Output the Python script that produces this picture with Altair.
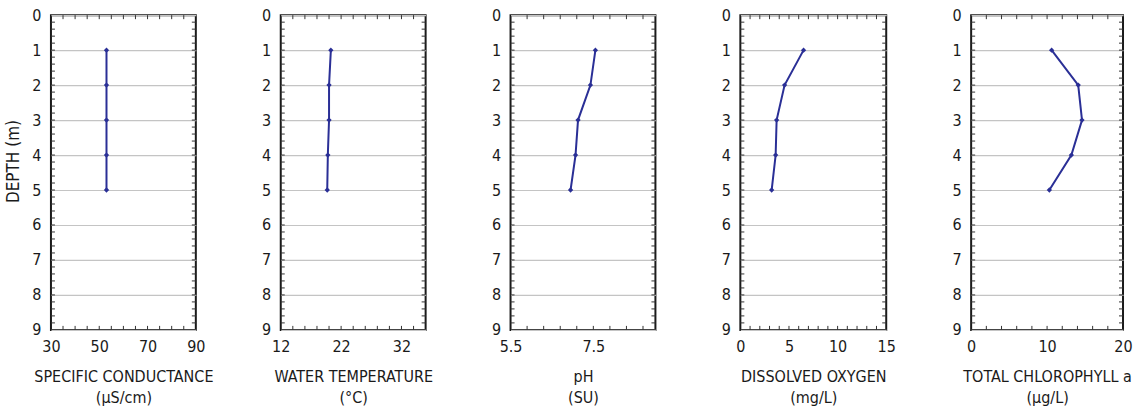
import altair as alt
import pandas as pd

depths = [1, 2, 3, 4, 5]
spec_cond = [53, 53, 53, 53, 53]
water_temp = [20.3, 20.0, 20.0, 19.8, 19.7]
ph = [7.55, 7.43, 7.13, 7.07, 6.95]
diss_oxy = [6.5, 4.55, 3.73, 3.63, 3.22]
chlorophyll = [10.6, 14.1, 14.6, 13.2, 10.3]

panels = [
    dict(vals=spec_cond, dom=[30, 90], labels=[30, 50, 70, 90], minor=5, fmt="d",
         title=["SPECIFIC CONDUCTANCE", "(\u00b5S/cm)"], width=145),
    dict(vals=water_temp, dom=[12, 36], labels=[12, 22, 32], minor=2, fmt="d",
         title=["WATER TEMPERATURE", "(\u00b0C)"], width=145),
    dict(vals=ph, dom=[5.5, 9.0], labels=[5.5, 7.5], minor=0.4, fmt=".1f",
         title=["pH", "(SU)"], width=145),
    dict(vals=diss_oxy, dom=[0, 15], labels=[0, 5, 10, 15], minor=1, fmt="d",
         title=["DISSOLVED OXYGEN", "(mg/L)"], width=146),
    dict(vals=chlorophyll, dom=[0, 20], labels=[0, 10, 20], minor=2, fmt="d",
         title=["TOTAL CHLOROPHYLL a", "(\u00b5g/L)"], width=152),
]
depth_labels = list(range(0, 10))

FONT = "Liberation Sans Narrow, DejaVu Sans Condensed, Arial Narrow, sans-serif"
LINE = "#2a2f96"
H = 315
TL = 4

charts = []
for i, p in enumerate(panels):
    W = p["width"]
    df = pd.DataFrame({"depth": depths, "value": p["vals"]})
    n = int(round((p["dom"][1] - p["dom"][0]) / p["minor"]))
    xt = pd.DataFrame({"value": [round(p["dom"][0] + k * p["minor"], 4) for k in range(1, n)]})
    yt = pd.DataFrame({"depth": [round(k * 0.2, 2) for k in range(1, 45)]})

    x_enc = alt.X("value:Q",
                  scale=alt.Scale(domain=p["dom"], nice=False, zero=False),
                  axis=alt.Axis(values=p["labels"], format=p["fmt"], title=p["title"],
                                grid=False, ticks=False, tickSize=0, domain=False,
                                labelFlush=False, labelOverlap=False, labelBound=False,
                                labelPadding=9, labelFontSize=16, labelFont=FONT,
                                labelColor="#1a1a1a", titleFont=FONT, titleFontSize=16,
                                titleFontWeight="normal", titleColor="#1a1a1a",
                                titlePadding=14, titleLineHeight=21))
    y_axis = dict(values=depth_labels, format="d", grid=True, gridColor="#c4c4c4",
                  gridWidth=1.2, ticks=False, tickSize=0, domain=False, labelPadding=10,
                  labelFontSize=16, labelFont=FONT, labelColor="#1a1a1a",
                  labelFlush=False, labelOverlap=False, labelBound=False)
    if i == 0:
        y_axis.update(title="DEPTH (m)", titleFont=FONT, titleFontSize=17,
                      titleFontWeight="normal", titleColor="#1a1a1a", titlePadding=9,
                      titleY=146)
    else:
        y_axis.update(title=None)
    y_enc = alt.Y("depth:Q", scale=alt.Scale(domain=[0, 9], reverse=True, nice=False),
                  axis=alt.Axis(**y_axis))

    line = alt.Chart(df).mark_line(color=LINE, strokeWidth=2).encode(
        x=x_enc, y=y_enc, order="depth:Q")
    pts = alt.Chart(df).mark_point(shape="diamond", filled=True, size=28,
                                   color=LINE, opacity=1).encode(x=x_enc, y=y_enc)
    yl = alt.Chart(yt).mark_rule(color="#333", strokeWidth=1).encode(
        y=y_enc, x=alt.value(0), x2=alt.value(TL))
    yr = alt.Chart(yt).mark_rule(color="#333", strokeWidth=1).encode(
        y=y_enc, x=alt.value(W - TL), x2=alt.value(W))
    xb = alt.Chart(xt).mark_rule(color="#333", strokeWidth=1).encode(
        x=x_enc, y=alt.value(H - TL), y2=alt.value(H))
    xtp = alt.Chart(xt).mark_rule(color="#333", strokeWidth=1).encode(
        x=x_enc, y=alt.value(0), y2=alt.value(TL))

    c = alt.layer(yl, yr, xb, xtp, line, pts).properties(width=W, height=H)
    charts.append(c)

chart = alt.hconcat(*charts, spacing=85, bounds="flush").configure_view(
    stroke="#1a1a1a", strokeWidth=2
).properties(
    padding={"left": 3, "top": 6, "right": 2, "bottom": 2},
    background="white",
)

chart.save("out.html", embed_options={"renderer": "svg", "actions": False})
